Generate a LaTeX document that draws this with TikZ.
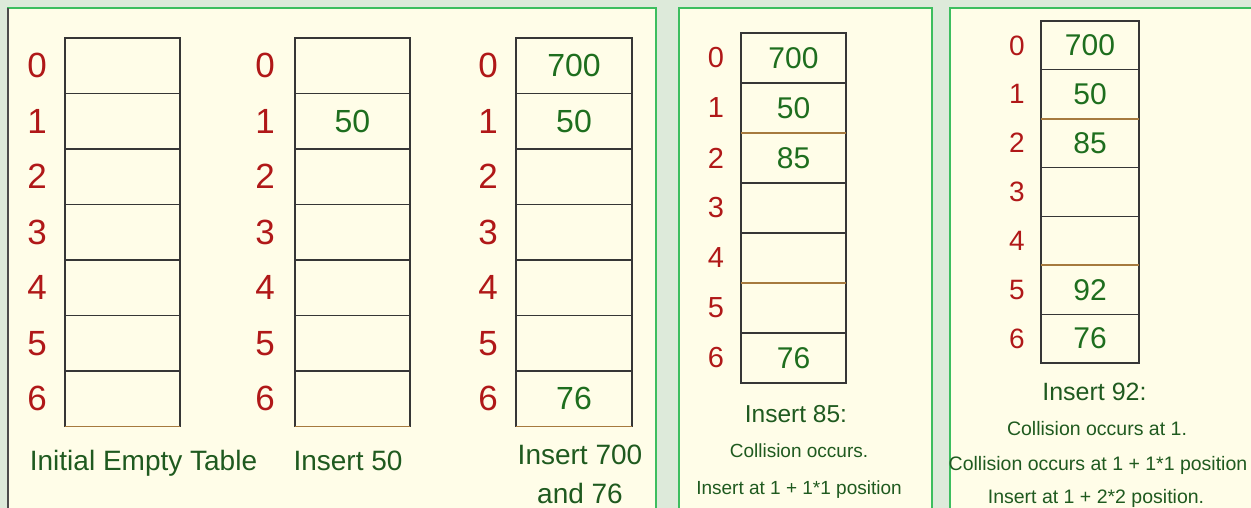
\documentclass[tikz,border=0pt]{standalone}
\usepackage{fontspec}
\setmainfont{Liberation Sans}
\definecolor{bg}{HTML}{DDEADA}
\definecolor{panel}{HTML}{FFFDE8}
\definecolor{pborder}{HTML}{3DBE5F}
\definecolor{idx}{HTML}{B01818}
\definecolor{val}{HTML}{1E6E1E}
\definecolor{cap}{HTML}{1F5A1F}
\definecolor{brn}{HTML}{A67A3E}
\definecolor{cellline}{HTML}{363636}
\newcommand\mktable[7]{%
  \foreach \i in {0,...,6}{
    \node[cell, minimum width=#3pt, minimum height=#5pt] (#1c\i) at (#2, {#4+#5*(\i+0.5)}) {};
    \node[idxlab, font=\fontsize{#7}{#7}\selectfont] (#1i\i) at (#6, {#4+#5*(\i+0.5)}) {\i};
  }%
}
\begin{document}
\begin{tikzpicture}[x=1pt,y=-1pt,
  cell/.style={draw=cellline, line width=1.2pt, inner sep=0pt, outer sep=0pt},
  idxlab/.style={text=idx, inner sep=0pt},
  valtxt/.style={text=val, inner sep=0pt},
  captxt/.style={text=cap, inner sep=0pt, anchor=base},
  panelbox/.style={draw=pborder, fill=panel, line width=1.5pt},
  brnline/.style={draw=brn, line width=1.8pt}]
\clip (0,0) rectangle (1251,508);
\useasboundingbox (0,0) rectangle (1251,508);
\fill[bg] (0,0) rectangle (1251,508);
% panels
\draw[panelbox] (8,8) rectangle (656,530);
\draw[gray!60!black, line width=1.2pt] (8,8) -- (8,508);
\draw[panelbox] (679,8) rectangle (932,530);
\draw[panelbox] (950,8) rectangle (1275,530);
% panel 1 tables
\mktable{a}{122.5}{115}{38}{55.5}{37}{35}
\mktable{b}{352.5}{115}{38}{55.5}{265}{35}
\mktable{c}{574}{116}{38}{55.5}{488}{35}
\draw[brnline] (ac6.south west) -- (ac6.south east);
\draw[brnline] (bc6.south west) -- (bc6.south east);
\draw[brnline] (cc6.south west) -- (cc6.south east);
\node[valtxt, font=\fontsize{32}{32}\selectfont] (bv1) at (bc1) {50};
\node[valtxt, font=\fontsize{32}{32}\selectfont] (cv0) at (cc0) {700};
\node[valtxt, font=\fontsize{32}{32}\selectfont] (cv1) at (cc1) {50};
\node[valtxt, font=\fontsize{32}{32}\selectfont] (cv6) at (cc6) {76};
\node[captxt, font=\fontsize{28}{28}\selectfont] (acap) at (143.5,470) {Initial Empty Table};
\node[captxt, font=\fontsize{28}{28}\selectfont] (bcap) at (348,470) {Insert 50};
\node[captxt, font=\fontsize{28}{28}\selectfont] (ccap1) at (580,464) {Insert 700};
\node[captxt, font=\fontsize{28}{28}\selectfont] (ccap2) at (580,503) {and 76};
% panel 2
\mktable{d}{793.5}{105}{33}{50}{716}{29}
\draw[brnline] (dc1.south west) -- (dc1.south east);
\draw[brnline] (dc4.south west) -- (dc4.south east);
\node[valtxt, font=\fontsize{30}{30}\selectfont] (dv0) at (dc0) {700};
\node[valtxt, font=\fontsize{30}{30}\selectfont] (dv1) at (dc1) {50};
\node[valtxt, font=\fontsize{30}{30}\selectfont] (dv2) at (dc2) {85};
\node[valtxt, font=\fontsize{30}{30}\selectfont] (dv6) at (dc6) {76};
\node[captxt, font=\fontsize{24.5}{24.5}\selectfont] (dcap1) at (796,422) {Insert 85:};
\node[captxt, font=\fontsize{19}{19}\selectfont] (dcap2) at (799,457) {Collision occurs.};
\node[captxt, font=\fontsize{19}{19}\selectfont] (dcap3) at (799,494) {Insert at 1 + 1*1 position};
% panel 3
\mktable{e}{1090}{98}{21}{48.86}{1017}{28}
\draw[brnline] (ec1.south west) -- (ec1.south east);
\draw[brnline] (ec4.south west) -- (ec4.south east);
\node[valtxt, font=\fontsize{30}{30}\selectfont] (ev0) at (ec0) {700};
\node[valtxt, font=\fontsize{30}{30}\selectfont] (ev1) at (ec1) {50};
\node[valtxt, font=\fontsize{30}{30}\selectfont] (ev2) at (ec2) {85};
\node[valtxt, font=\fontsize{30}{30}\selectfont] (ev5) at (ec5) {92};
\node[valtxt, font=\fontsize{30}{30}\selectfont] (ev6) at (ec6) {76};
\node[captxt, font=\fontsize{25}{25}\selectfont] (ecap1) at (1094.5,400) {Insert 92:};
\node[captxt, font=\fontsize{19.5}{19.5}\selectfont] (ecap2) at (1097,435) {Collision occurs at 1.};
\node[captxt, font=\fontsize{19.5}{19.5}\selectfont] (ecap3) at (1098,470) {Collision occurs at 1 + 1*1 position};
\node[captxt, font=\fontsize{19.5}{19.5}\selectfont] (ecap4) at (1096,503) {Insert at 1 + 2*2 position.};
\end{tikzpicture}
\end{document}
